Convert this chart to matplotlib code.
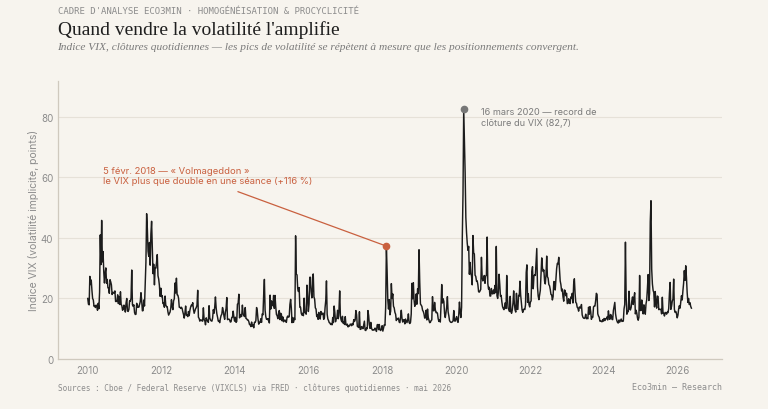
import matplotlib
matplotlib.use("Agg")
import matplotlib.pyplot as plt
import numpy as np

# ---------------- data (weekly closes) ----------------
years = list(range(2010, 2027))
weeks_in_year = [53, 52, 52, 52, 52, 52, 53, 52, 52, 52, 52, 53, 52, 52, 52, 52, 52]

vix_2010 = [20.0, 18.1, 17.9, 27.3, 24.6, 26.1, 22.7, 20.0, 19.5, 17.4, 17.6, 17.0, 17.8, 17.5, 16.1, 18.4, 16.6, 22.1, 41.0, 31.2,
            45.8, 32.1, 35.5, 28.8, 25.1, 28.5, 30.1, 25.0, 26.3, 23.5, 23.5, 21.7, 26.2, 25.5, 24.5, 21.3, 22.0, 22.0, 21.7, 22.5,
            19.0, 19.0, 19.1, 21.2, 18.3, 20.6, 18.0, 22.2, 18.0, 17.6, 16.1, 16.5, 17.8]
vix_2011 = [17.1, 15.5, 18.5, 20.0, 15.9, 15.7, 16.4, 19.2, 19.1, 20.1, 29.4, 17.9, 17.4, 17.9, 15.3, 14.7, 14.8, 18.4, 17.1, 17.4,
            17.1, 18.0, 18.9, 21.9, 19.3, 15.9, 16.0, 19.5, 17.5, 25.3, 32.0, 48.0, 43.1, 35.6, 33.9, 38.5, 31.0, 41.3, 45.5, 36.2,
            28.2, 31.3, 24.5, 30.2, 30.0, 32.0, 34.5, 27.5, 26.4, 24.3, 20.7, 23.4]
vix_2012 = [20.6, 20.9, 18.3, 18.5, 17.1, 20.8, 17.8, 17.3, 17.3, 15.6, 14.5, 15.0, 15.5, 16.7, 19.6, 17.4, 16.3, 19.2, 19.9, 25.1,
            21.8, 26.7, 21.2, 21.1, 20.1, 17.1, 17.1, 16.7, 17.1, 16.7, 15.6, 14.7, 13.5, 15.2, 17.5, 14.4, 14.5, 14.0, 15.7, 14.3,
            16.1, 17.1, 17.8, 17.6, 18.6, 16.4, 15.1, 15.9, 16.6, 17.0, 17.8, 22.7]
vix_2013 = [13.8, 13.4, 12.5, 12.9, 12.9, 12.6, 12.5, 16.9, 13.1, 12.6, 11.3, 13.6, 12.7, 12.7, 12.1, 17.6, 13.6, 12.9, 12.6, 12.5,
            13.5, 16.3, 15.1, 17.2, 20.5, 16.9, 14.9, 13.8, 12.5, 12.7, 12.0, 13.4, 14.4, 14.8, 17.0, 15.9, 14.2, 13.1, 15.5, 16.7,
            20.3, 13.0, 13.1, 13.2, 12.9, 12.2, 12.3, 13.7, 13.8, 15.8, 13.8, 12.5]
vix_2014 = [13.8, 12.1, 12.4, 18.1, 18.4, 21.4, 13.6, 14.7, 14.0, 14.1, 17.8, 15.0, 14.4, 14.0, 17.0, 13.4, 13.3, 12.9, 12.9, 12.4,
            11.4, 11.4, 10.7, 12.2, 10.9, 11.3, 10.3, 12.1, 12.1, 12.7, 17.0, 15.8, 13.2, 11.5, 12.1, 12.1, 13.3, 12.1, 14.9, 14.6,
            21.2, 26.3, 16.1, 14.0, 13.1, 13.3, 12.9, 13.3, 11.9, 21.1, 16.5, 19.2]
vix_2015 = [17.8, 17.6, 21.0, 16.7, 21.0, 17.3, 14.7, 14.3, 13.3, 15.2, 16.0, 13.0, 15.1, 14.7, 12.6, 13.9, 12.3, 12.7, 12.9, 12.4,
            12.1, 13.8, 14.2, 13.8, 14.0, 18.0, 19.7, 16.8, 12.0, 13.7, 12.1, 13.4, 13.0, 40.7, 28.0, 27.8, 23.2, 22.3, 23.6, 17.1,
            17.1, 15.1, 14.5, 15.1, 14.3, 20.1, 15.5, 15.1, 14.8, 24.4, 20.7, 15.7]
vix_2016 = [18.2, 27.0, 27.0, 22.3, 20.2, 23.4, 28.1, 20.5, 19.8, 16.9, 16.5, 14.0, 14.7, 13.1, 15.4, 13.6, 13.2, 15.7, 14.7, 15.0,
            15.2, 13.1, 13.5, 17.0, 19.4, 25.8, 14.8, 13.2, 12.7, 12.0, 11.9, 11.4, 11.6, 11.3, 13.7, 12.0, 17.5, 15.4, 12.3, 13.3,
            13.5, 16.1, 13.3, 16.2, 22.5, 14.2, 12.9, 12.3, 14.1, 11.8, 12.2, 11.4, 14.0]
vix_2017 = [11.3, 11.2, 11.5, 10.6, 11.0, 10.9, 11.5, 11.5, 11.0, 11.7, 11.3, 13.0, 12.4, 12.9, 16.0, 14.6, 10.8, 10.6, 10.4, 15.6,
            9.8, 9.8, 10.7, 10.4, 10.0, 11.2, 12.5, 9.5, 9.4, 10.3, 10.0, 16.0, 14.3, 11.3, 10.1, 12.1, 10.2, 9.6, 9.5, 9.7,
            9.6, 10.2, 9.8, 9.1, 11.3, 11.4, 9.7, 11.4, 9.6, 9.4, 9.9, 11.0]
vix_2018 = [9.2, 10.2, 11.3, 11.1, 17.3, 37.3, 29.1, 19.5, 16.5, 19.6, 14.6, 15.8, 24.9, 20.0, 21.5, 17.4, 16.9, 15.4, 14.8, 12.7,
            13.4, 13.2, 13.5, 12.2, 12.0, 13.8, 16.1, 13.4, 12.2, 12.9, 13.0, 11.6, 13.2, 12.6, 12.0, 12.9, 14.9, 12.1, 11.7, 12.1,
            14.8, 25.0, 19.9, 25.2, 19.5, 17.4, 18.1, 21.5, 18.1, 23.2, 21.6, 36.1]
vix_2019 = [25.5, 18.2, 17.8, 17.4, 16.1, 15.7, 14.9, 13.5, 13.6, 16.1, 12.9, 16.5, 13.7, 12.8, 12.0, 12.1, 12.7, 12.9, 20.6, 16.0,
            15.9, 18.7, 16.3, 15.3, 15.4, 15.1, 13.3, 12.4, 12.9, 12.2, 17.6, 24.6, 18.5, 19.9, 19.0, 15.0, 13.7, 15.3, 17.2, 20.6,
            15.6, 14.3, 12.7, 12.3, 12.1, 12.1, 12.3, 12.6, 16.0, 12.6, 12.5, 13.4]
vix_2020 = [14.0, 12.6, 12.1, 14.6, 18.8, 15.5, 13.7, 17.1, 40.1, 54.5, 82.7, 72.0, 61.6, 46.8, 41.7, 38.2, 35.9, 37.2, 28.0, 31.9,
            28.2, 27.5, 24.5, 40.8, 35.1, 34.7, 27.7, 27.3, 25.7, 25.8, 24.5, 22.2, 22.1, 22.5, 23.0, 33.6, 26.9, 25.8, 26.4, 27.6,
            25.0, 27.4, 27.6, 40.3, 24.9, 23.1, 23.7, 20.8, 20.8, 23.3, 21.6, 21.5]
vix_2021 = [22.8, 21.6, 24.3, 21.9, 37.2, 20.9, 20.0, 22.1, 28.0, 24.7, 20.7, 21.0, 18.9, 17.3, 16.7, 16.3, 17.3, 18.6, 16.7, 27.6,
            20.2, 16.8, 16.4, 15.7, 20.7, 15.6, 15.1, 16.2, 18.5, 22.5, 18.2, 16.2, 15.5, 21.7, 16.4, 16.4, 21.0, 20.8, 25.7, 21.2,
            18.8, 16.3, 15.4, 16.3, 16.5, 16.3, 17.9, 28.6, 31.1, 18.7, 21.6, 18.0, 17.2]
vix_2022 = [18.8, 19.2, 28.9, 30.5, 23.2, 27.4, 27.8, 27.6, 32.0, 36.5, 23.9, 20.8, 19.6, 21.2, 22.7, 28.2, 33.4, 30.2, 28.9, 29.4,
            25.7, 24.8, 27.8, 34.0, 27.2, 26.7, 24.6, 24.2, 23.0, 21.3, 21.2, 19.5, 20.6, 25.6, 25.5, 22.8, 26.3, 29.9, 31.6, 31.4,
            33.6, 29.7, 25.8, 24.6, 22.5, 23.1, 20.5, 19.1, 22.8, 22.6, 20.9, 21.7]
vix_2023 = [18.3, 18.4, 19.9, 18.5, 18.3, 20.5, 20.0, 21.7, 18.5, 24.8, 26.5, 21.7, 18.7, 18.4, 17.1, 16.8, 15.8, 17.2, 17.0, 16.8,
            18.0, 14.6, 13.8, 13.5, 13.4, 13.6, 14.8, 13.3, 13.6, 13.3, 17.1, 14.8, 17.3, 15.7, 13.1, 13.8, 13.8, 17.2, 17.5, 17.5,
            19.3, 21.7, 21.3, 14.9, 14.2, 13.8, 12.5, 12.6, 12.4, 12.3, 13.0, 12.5]
vix_2024 = [13.4, 12.7, 13.3, 13.3, 13.9, 12.9, 15.9, 13.8, 13.1, 14.7, 14.4, 13.1, 13.0, 16.0, 17.3, 18.7, 15.0, 13.5, 12.6, 12.0,
            11.9, 12.9, 12.2, 12.7, 13.2, 12.4, 12.5, 12.5, 16.5, 18.0, 38.6, 20.4, 14.8, 15.9, 15.6, 22.4, 16.6, 16.2, 17.0, 19.2,
            20.5, 18.0, 20.3, 21.9, 14.9, 16.1, 15.2, 13.5, 12.8, 13.8, 27.6, 16.0]
vix_2025 = [16.1, 19.5, 16.0, 14.9, 17.9, 16.5, 14.8, 18.2, 19.6, 23.4, 27.9, 19.3, 21.7, 45.3, 52.3, 29.7, 24.8, 22.7, 21.9, 17.2,
            22.3, 18.6, 16.8, 20.8, 20.6, 16.3, 16.4, 16.4, 16.4, 14.9, 20.4, 15.2, 15.1, 14.2, 15.4, 15.2, 14.8, 15.5, 15.3, 16.7,
            21.7, 25.3, 16.4, 17.4, 19.1, 19.8, 26.4, 16.4, 15.4, 15.7, 14.9, 13.6]
vix_2026 = [14.5, 16.5, 17.6, 16.8, 19.0, 20.9, 19.5, 22.5, 25.0, 29.2, 26.0, 30.8, 27.0, 22.0, 18.7, 20.0, 18.0, 18.6, 17.4, 16.8]

all_years = [vix_2010, vix_2011, vix_2012, vix_2013, vix_2014, vix_2015, vix_2016, vix_2017, vix_2018,
             vix_2019, vix_2020, vix_2021, vix_2022, vix_2023, vix_2024, vix_2025, vix_2026]

xticks = [2010, 2012, 2014, 2016, 2018, 2020, 2022, 2024, 2026]
yticks = [0, 20, 40, 60, 80]

# ---------------- build series ----------------
t, v = [], []
for yr, n, vals in zip(years, weeks_in_year, all_years):
    for i, val in enumerate(vals):
        t.append(yr + (i + 0.5) / n)
        v.append(val)
t = np.array(t)
v = np.array(v)

# ---------------- style ----------------
BG = "#F7F4EE"
INK = "#1c1c1c"
GRID = "#E6E1D8"
SPINE = "#CFC9BE"
MUTED = "#8C8C8C"
ORANGE = "#C9603F"

fig = plt.figure(figsize=(7.68, 4.10), dpi=100, facecolor=BG)
ax = fig.add_axes([0.0749, 0.122, 0.865, 0.679], facecolor=BG)

ax.plot(t, v, color=INK, lw=1.05, solid_joinstyle="round", zorder=3)

ax.set_xlim(2009.19, 2027.2)
ax.set_ylim(0, 92)
ax.set_xticks(xticks)
ax.set_xticklabels([str(x) for x in xticks])
ax.set_yticks(yticks)
ax.grid(axis="y", color=GRID, lw=0.8, zorder=0)
ax.grid(axis="x", visible=False)
for s in ["top", "right"]:
    ax.spines[s].set_visible(False)
for s in ["left", "bottom"]:
    ax.spines[s].set_color(SPINE)
    ax.spines[s].set_linewidth(0.9)
ax.tick_params(axis="both", length=0, labelsize=7, labelcolor=MUTED)
ax.tick_params(axis="x", pad=4)
ax.tick_params(axis="y", pad=3)
for lab in ax.get_xticklabels() + ax.get_yticklabels():
    lab.set_family("Inter")
ax.set_ylabel("Indice VIX (volatilité implicite, points)", fontsize=7.5, color=MUTED,
              family="Inter", labelpad=1)

# ---------------- annotations ----------------
m18 = (t > 2018) & (t < 2018.3)
i18 = np.flatnonzero(m18)[np.argmax(v[m18])]
imax = int(np.argmax(v))

ax.plot(t[i18], v[i18], "o", ms=4.5, color=ORANGE, zorder=5)
ax.annotate("", xy=(t[i18], v[i18]), xytext=(2014.08, 55.3),
            arrowprops=dict(arrowstyle="-", color=ORANGE, lw=0.9, shrinkA=0, shrinkB=0), zorder=4)
ax.text(2010.41, 60.6, "5 févr. 2018 — « Volmageddon »\nle VIX plus que double en une séance (+116 %)",
        fontsize=6.8, color=ORANGE, family="Inter", ha="left", va="center", linespacing=1.25)

ax.plot(t[imax], v[imax], "o", ms=4.5, color="#777777", zorder=5)
ax.text(2020.66, 80.0, "16 mars 2020 — record de\nclôture du VIX (82,7)",
        fontsize=6.6, color="#7A7A7A", family="Inter", ha="left", va="center", linespacing=1.2)

# ---------------- titles & footer ----------------
fig.text(0.0749, 1 - 12 / 410, "CADRE D'ANALYSE ECO3MIN · HOMOGÉNÉISATION & PROCYCLICITÉ",
         fontsize=6.45, color=MUTED, family="DejaVu Sans Mono", ha="left", va="center")
fig.text(0.0749, 1 - 30 / 410, "Quand vendre la volatilité l'amplifie",
         fontsize=14, color="#1f1f1f", family="Liberation Serif", ha="left", va="center")
fig.text(0.0749, 1 - 47.5 / 410,
         "Indice VIX, clôtures quotidiennes — les pics de volatilité se répètent à mesure que les positionnements convergent.",
         fontsize=8.2, color="#7A7A7A", family="Liberation Serif", style="italic", ha="left", va="center")
fig.text(0.0749, 1 - 388 / 410,
         "Sources : Cboe / Federal Reserve (VIXCLS) via FRED · clôtures quotidiennes · mai 2026",
         fontsize=5.6, color=MUTED, family="DejaVu Sans Mono", ha="left", va="center")
fig.text(0.940, 1 - 388 / 410, "Eco3min — Research",
         fontsize=6.0, color=MUTED, family="DejaVu Sans Mono", ha="right", va="center")

fig.savefig("out.png", dpi=100, facecolor=BG)
